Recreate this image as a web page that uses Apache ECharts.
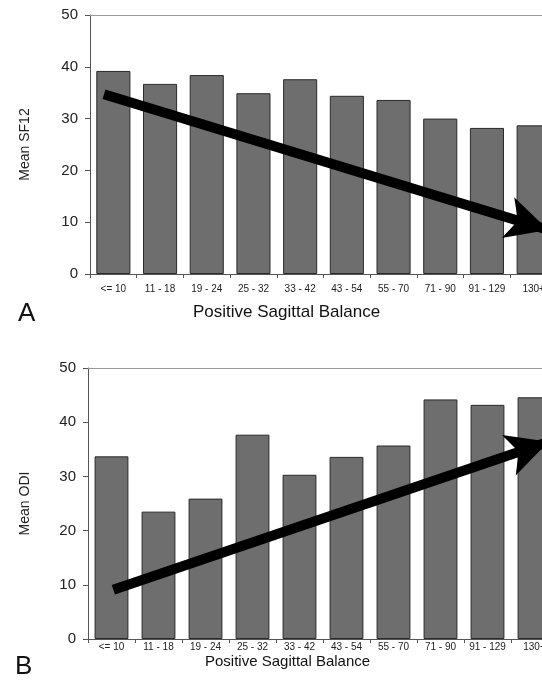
<!DOCTYPE html>
<html>
<head>
<meta charset="utf-8">
<script src="https://cdn.jsdelivr.net/npm/echarts@6/dist/echarts.min.js"></script>
<style>
  html, body { margin: 0; padding: 0; background: #fff; }
  #chart { width: 542px; height: 680px; }
</style>
</head>
<body>
<div id="chart"></div>
<script>
const categories = ['<= 10', '11 - 18', '19 - 24', '25 - 32', '33 - 42', '43 - 54', '55 - 70', '71 - 90', '91 - 129', '130+']
const sf12Values = [39.2, 36.7, 38.4, 34.9, 37.6, 34.4, 33.6, 30.0, 28.2, 28.7]
const odiValues = [33.7, 23.5, 25.9, 37.7, 30.3, 33.6, 35.7, 44.2, 43.2, 44.6]
// trend arrows: [position along the axis in category units, value]
const sf12Arrow = [[0.30, 34.7], [9.81, 8.5]]
const odiArrow = [[0.54, 9.1], [9.80, 36.4]]
const yTicks = [0, 50, 10] // min, max, interval

const font = 'Liberation Sans, Arial, sans-serif'
const axisColor = '#555'

function barAxis(gridIndex, labelMargin) {
  return {
    type: 'category',
    gridIndex: gridIndex,
    data: categories,
    axisLine: { lineStyle: { color: axisColor } },
    axisTick: { show: true, length: 4, lineStyle: { color: axisColor } },
    axisLabel: { fontFamily: font, fontSize: 10, color: '#222', margin: labelMargin, interval: 0 }
  }
}

function arrowAxis(gridIndex) {
  // hidden value axis used to place the trend arrow; its line is the top border
  return {
    type: 'value',
    gridIndex: gridIndex,
    position: 'top',
    min: 0,
    max: 10,
    axisLine: { show: true, lineStyle: { color: '#999' } },
    axisTick: { show: false },
    axisLabel: { show: false },
    splitLine: { show: false }
  }
}

function valueAxis(gridIndex, name, gap) {
  return {
    type: 'value',
    gridIndex: gridIndex,
    min: yTicks[0],
    max: yTicks[1],
    interval: yTicks[2],
    name: name,
    nameLocation: 'middle',
    nameGap: gap,
    nameTextStyle: { fontFamily: font, fontSize: 14, color: '#222' },
    axisLine: { show: true, lineStyle: { color: axisColor } },
    axisTick: { show: true, length: 5, lineStyle: { color: axisColor } },
    axisLabel: { fontFamily: font, fontSize: 15, color: '#222', margin: 12 },
    splitLine: { show: false }
  }
}

function barSeries(axisIndex, values, gap) {
  return {
    type: 'bar',
    xAxisIndex: axisIndex,
    yAxisIndex: axisIndex,
    data: values,
    barCategoryGap: gap,
    itemStyle: { color: '#6e6e6e', borderColor: '#2a2a2a', borderWidth: 1 },
    silent: true
  }
}

function arrowSeries(xIndex, yIndex, pts) {
  return {
    type: 'line',
    xAxisIndex: xIndex,
    yAxisIndex: yIndex,
    data: [],
    silent: true,
    markLine: {
      silent: true,
      symbol: ['none', 'arrow'],
      symbolSize: [32, 42],
      label: { show: false },
      lineStyle: { color: '#000', width: 10, type: 'solid' },
      emphasis: { disabled: true },
      data: [[{ coord: pts[0] }, { coord: pts[1] }]]
    }
  }
}

const chart = echarts.init(document.getElementById('chart'), null, { renderer: 'canvas' })

// the original plot runs past the right edge of the picture, so the grids are wider than the page
chart.setOption({
  animation: false,
  backgroundColor: '#fff',
  grid: [
    { left: 90, top: 15, width: 467, height: 259, outerBoundsMode: 'none' },
    { left: 88, top: 368, width: 470, height: 271, outerBoundsMode: 'none' }
  ],
  xAxis: [barAxis(0, 10), barAxis(1, 3), arrowAxis(0), arrowAxis(1)],
  yAxis: [valueAxis(0, 'Mean SF12', 58), valueAxis(1, 'Mean ODI', 56)],
  series: [
    barSeries(0, sf12Values, '27%'),
    barSeries(1, odiValues, '28%'),
    arrowSeries(2, 0, sf12Arrow),
    arrowSeries(3, 1, odiArrow)
  ],
  graphic: [
    { type: 'text', left: 18, top: 301, style: { text: 'A', font: '26px ' + font, fill: '#111' } },
    { type: 'text', left: 15, top: 654, style: { text: 'B', font: '26px ' + font, fill: '#111' } },
    { type: 'text', left: 193, top: 304, style: { text: 'Positive Sagittal Balance', font: '17px ' + font, fill: '#111' } },
    { type: 'text', left: 205, top: 654, style: { text: 'Positive Sagittal Balance', font: '15px ' + font, fill: '#111' } }
  ]
})
</script>
</body>
</html>
